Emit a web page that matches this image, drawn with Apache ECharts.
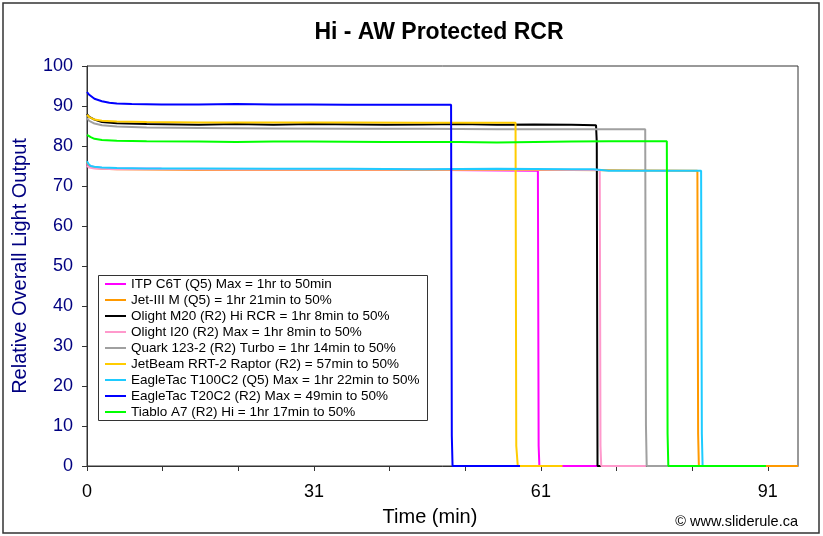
<!DOCTYPE html>
<html>
<head>
<meta charset="utf-8">
<script src="https://cdn.jsdelivr.net/npm/echarts@6/dist/echarts.min.js"></script>
<style>
html,body{margin:0;padding:0;background:#fff;}
#chart{width:823px;height:536px;}
</style>
</head>
<body>
<div id="chart"></div>
<script>
// ---- data ----
const xTickLabels = ['0', '31', '61', '91'];
const seriesNames = [
  'ITP C6T (Q5) Max = 1hr to 50min',
  'Jet-III M (Q5) = 1hr 21min to 50%',
  'Olight M20 (R2) Hi RCR = 1hr 8min to 50%',
  'Olight I20 (R2) Max = 1hr 8min to 50%',
  'Quark 123-2 (R2) Turbo = 1hr 14min to 50%',
  'JetBeam RRT-2 Raptor (R2) = 57min to 50%',
  'EagleTac T100C2 (Q5) Max = 1hr 22min to 50%',
  'EagleTac T20C2 (R2) Max = 49min to 50%',
  'Tiablo A7 (R2) Hi = 1hr 17min to 50%'
];
const seriesColors = ['#FF00FF', '#FF9900', '#000000', '#FF99CC', '#A0A0A0', '#FFCC00', '#1ECBFF', '#0000FF', '#00FF00'];

const itpT = [0, 0.3, 1, 2, 4, 10, 20, 40, 60.5, 60.6, 60.7, 69];
const itpV = [75.5, 75, 74.7, 74.5, 74.4, 74.3, 74.2, 74.1, 73.8, 5, 0, 0];
const jet3T = [0, 0.2, 0.5, 1, 2, 4, 8, 15, 25, 35, 45, 55, 65, 75, 81.9, 82.0, 82.1, 95.4];
const jet3V = [76, 75.3, 74.8, 74.5, 74.3, 74.2, 74.1, 74, 74, 74, 74, 74, 74, 73.9, 73.8, 8, 0, 0];
const m20T = [0, 0.3, 1, 2, 4, 8, 15, 20, 25, 30, 40, 45, 50, 55, 60, 65, 68.3, 68.4, 68.5, 69];
const m20V = [88, 87.3, 86.6, 86, 85.7, 85.5, 85.3, 85.5, 85.3, 85.5, 85.3, 85.4, 85.5, 85.3, 85.4, 85.3, 85.2, 81, 0, 0];
const i20T = [0, 0.3, 1, 2, 4, 10, 20, 40, 60, 68.8, 68.9, 69.0, 75];
const i20V = [75, 74.6, 74.4, 74.3, 74.2, 74.2, 74.1, 74.1, 74.1, 74, 5, 0, 0];
const quarkT = [0, 0.3, 1, 2, 4, 8, 15, 25, 35, 45, 55, 65, 74.9, 75.0, 75.1, 78];
const quarkV = [87, 86.3, 85.6, 85.2, 84.9, 84.6, 84.5, 84.4, 84.3, 84.3, 84.2, 84.2, 84.2, 10, 0, 0];
const rrtT = [0, 0.3, 1, 2, 4, 8, 15, 25, 35, 45, 55, 57.5, 57.6, 57.8, 63.8];
const rrtV = [87.8, 87.2, 86.6, 86.3, 86.1, 86, 85.9, 85.9, 85.9, 85.8, 85.8, 85.8, 5, 0, 0];
const t100T = [0, 0.2, 0.5, 1, 2, 4, 8, 15, 25, 35, 45, 55, 65, 68, 70, 75, 82.4, 82.5, 82.6, 84];
const t100V = [76.2, 75.5, 75, 74.8, 74.6, 74.5, 74.4, 74.4, 74.3, 74.3, 74.2, 74.3, 74.2, 74.2, 73.8, 73.8, 73.8, 8, 0, 0];
const t20T = [0, 0.3, 1, 2, 3, 4, 6, 10, 15, 20, 25, 30, 35, 40, 45, 48.85, 48.95, 49.05, 58.1];
const t20V = [93.5, 92.8, 91.8, 91.2, 90.8, 90.6, 90.5, 90.4, 90.4, 90.5, 90.4, 90.4, 90.3, 90.3, 90.3, 90.3, 7.5, 0, 0];
const a7T = [0, 0.5, 1, 2, 4, 8, 15, 20, 25, 30, 40, 45, 50, 55, 60, 65, 70, 77.8, 77.9, 78.0, 91.1];
const a7V = [82.8, 82.2, 81.8, 81.5, 81.3, 81.2, 81.1, 81, 81.1, 81.1, 81, 81, 81, 80.9, 81, 81.1, 81.2, 81.2, 8, 0, 0];

const allT = [itpT, jet3T, m20T, i20T, quarkT, rrtT, t100T, t20T, a7T];
const allV = [itpV, jet3V, m20V, i20V, quarkV, rrtV, t100V, t20V, a7V];

// ---- chart ----
const FONT = "'Liberation Sans', Arial, sans-serif";
const X_INT = 10.15;
const chart = echarts.init(document.getElementById('chart'));

const series = seriesNames.map((name, i) => ({
  name: name,
  type: 'line',
  symbol: 'none',
  color: seriesColors[i],
  lineStyle: { width: 2, color: seriesColors[i] },
  data: allT[i].map((t, k) => [t, allV[i][k]])
}));

chart.setOption({
  animation: false,
  backgroundColor: '#fff',
  title: {
    text: 'Hi - AW Protected RCR',
    left: 434, top: 16, textAlign: 'center',
    textStyle: { fontFamily: FONT, fontSize: 23, fontWeight: 'bold', color: '#000' }
  },
  grid: { left: 87, right: 25, top: 66, bottom: 70, show: true, borderColor: '#333', borderWidth: 1, backgroundColor: '#fff' },
  xAxis: {
    type: 'value', min: 0, max: 95.4, interval: X_INT,
    axisLine: { show: true, lineStyle: { color: '#333', width: 1 } },
    axisTick: { show: true, inside: false, length: 5, lineStyle: { color: '#333' } },
    splitLine: { show: false },
    axisLabel: {
      showMaxLabel: false, margin: 17,
      fontFamily: FONT, fontSize: 18, color: '#000',
      formatter: function (v) {
        const i = Math.round(v / X_INT);
        return (i % 3 === 0 && xTickLabels[i / 3] !== undefined) ? xTickLabels[i / 3] : '';
      }
    }
  },
  yAxis: {
    type: 'value', min: 0, max: 100, interval: 10,
    name: 'Relative Overall Light Output', nameLocation: 'middle', nameGap: 57,
    nameTextStyle: { fontFamily: FONT, fontSize: 20, color: '#000080' },
    axisLine: { show: true, lineStyle: { color: '#333', width: 1 } },
    axisTick: { show: true, inside: false, length: 5, lineStyle: { color: '#333' } },
    splitLine: { show: false },
    axisLabel: { margin: 14, fontFamily: FONT, fontSize: 18, color: '#000080' }
  },
  legend: {
    orient: 'vertical', left: 105, top: 276, padding: 0,
    itemGap: 0, itemWidth: 21, itemHeight: 2, icon: 'rect',
    textStyle: { fontFamily: FONT, fontSize: 13.5, color: '#000', lineHeight: 16 },
    data: seriesNames
  },
  graphic: [
    { type: 'rect', z: 0, silent: true, shape: { x: 98.5, y: 275.5, width: 329, height: 145 },
      style: { fill: '#fff', stroke: '#333', lineWidth: 1 } },
    { type: 'text', silent: true, x: 430, y: 517,
      style: { text: 'Time (min)', fontFamily: FONT, fontSize: 20, fill: '#000', textAlign: 'center', textVerticalAlign: 'middle' } },
    { type: 'text', silent: true, x: 798, y: 522,
      style: { text: '\u00A9 www.sliderule.ca', fontFamily: FONT, fontSize: 14.5, fill: '#000', textAlign: 'right', textVerticalAlign: 'middle' } },
    { type: 'rect', silent: true, z: 100, shape: { x: 3, y: 3, width: 816, height: 530 },
      style: { fill: 'none', stroke: '#333', lineWidth: 1.5 } }
  ],
  series: series
});
</script>
</body>
</html>
